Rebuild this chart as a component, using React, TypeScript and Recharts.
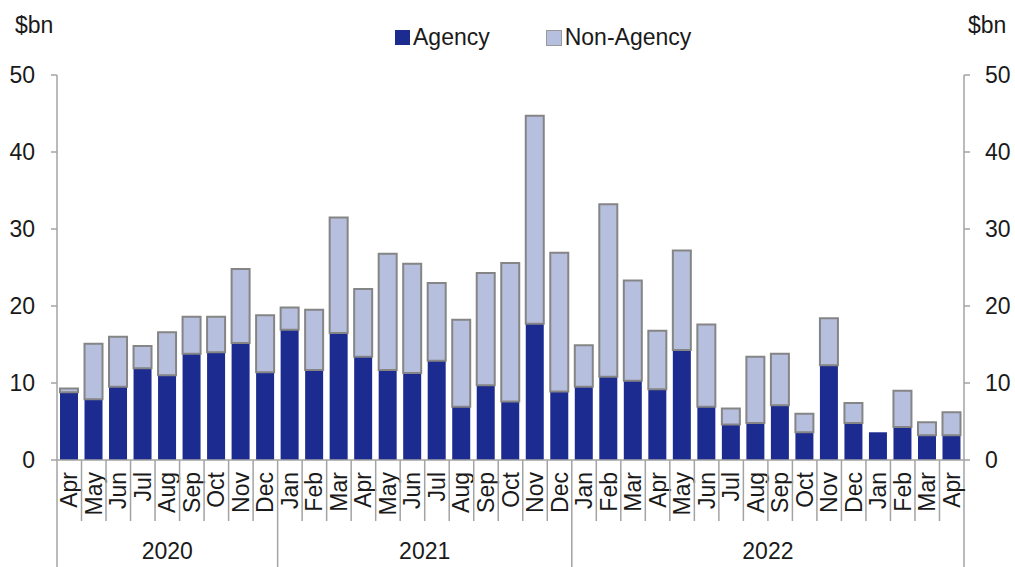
import {Bar, ComposedChart, Line, XAxis, YAxis} from "recharts";

const months = [
    "Apr", "May", "Jun", "Jul", "Aug", "Sep", "Oct", "Nov", "Dec",
    "Jan", "Feb", "Mar", "Apr", "May", "Jun", "Jul", "Aug", "Sep", "Oct", "Nov", "Dec",
    "Jan", "Feb", "Mar", "Apr", "May", "Jun", "Jul", "Aug", "Sep", "Oct", "Nov", "Dec",
    "Jan", "Feb", "Mar", "Apr",
];

// $bn per month
const agency = [
    8.8, 7.9, 9.5, 11.9, 11.0, 13.8, 14.0, 15.2, 11.4,
    16.9, 11.7, 16.5, 13.4, 11.7, 11.3, 12.9, 6.9, 9.7, 7.6, 17.7, 8.9,
    9.5, 10.8, 10.3, 9.2, 14.3, 6.9, 4.6, 4.8, 7.1, 3.6, 12.3, 4.8,
    3.6, 4.3, 3.2, 3.2,
];

const nonAgency = [
    0.5, 7.2, 6.5, 2.9, 5.6, 4.8, 4.6, 9.6, 7.4,
    2.9, 7.8, 15.0, 8.8, 15.1, 14.2, 10.1, 11.3, 14.6, 18.0, 27.0, 18.0,
    5.4, 22.4, 13.0, 7.6, 12.9, 10.7, 2.1, 8.6, 6.7, 2.4, 6.1, 2.6,
    0, 4.7, 1.7, 3.0,
];

// year groups along the x axis: label and number of months under it
const yearLabels = ["2020", "2021", "2022"];
const yearSpans = [9, 12, 16];

const yTicks = [0, 10, 20, 30, 40, 50];

const data = months.map((m, i) => ({month: m, agency: agency[i], nonAgency: nonAgency[i]}));

const W = 1015;
const H = 567;
const LEFT = 57;
const RIGHT = 51;
const TOP = 75;
const XAXIS_H = 107;
const BAND = (W - LEFT - RIGHT) / months.length;

const FONT = "'Liberation Sans', Arial, sans-serif";
const AXIS_GREY = "#a3a3a3";
const DARK = "#1c2b90";
const LIGHT = "#b6bfde";

const groupStarts = yearSpans.map((_, i) => yearSpans.slice(0, i).reduce((a, b) => a + b, 0));

const MonthTick = (props: any) => {
    const {x, y, payload, index} = props;
    const i = payload?.index ?? index;
    const left = x - BAND / 2;
    const g = groupStarts.indexOf(i);
    const last = i === months.length - 1;
    return (
        <g>
            <line x1={left} y1={y} x2={left} y2={y + (g >= 0 ? XAXIS_H : 61)} stroke={AXIS_GREY} strokeWidth={1.5}/>
            {last && (
                <line x1={x + BAND / 2} y1={y} x2={x + BAND / 2} y2={y + XAXIS_H} stroke={AXIS_GREY} strokeWidth={1.5}/>
            )}
            <text
                transform={`translate(${x + 8},${y + 12}) rotate(-90)`}
                textAnchor="end"
                fontSize={23}
                fontFamily={FONT}
                fill="#1a1a1a"
            >
                {payload.value}
            </text>
            {g >= 0 && (
                <text
                    x={x + (yearSpans[g] - 1) * BAND / 2}
                    y={y + 99}
                    textAnchor="middle"
                    fontSize={23}
                    fontFamily={FONT}
                    fill="#1a1a1a"
                >
                    {yearLabels[g]}
                </text>
            )}
        </g>
    );
};

const tickStyle = {fontSize: 23, fontFamily: FONT, fill: "#1a1a1a"};

export default function App() {
    return (
        <div style={{position: "absolute", left: 0, top: 0, width: W, height: H, background: "#fff", fontFamily: FONT}}>
            <div style={{position: "absolute", left: 15, top: 12, fontSize: 23, color: "#1a1a1a"}}>$bn</div>
            <div style={{position: "absolute", left: 968, top: 12, fontSize: 23, color: "#1a1a1a"}}>$bn</div>
            <div style={{position: "absolute", left: 395, top: 24, display: "flex", alignItems: "center", fontSize: 23, color: "#1a1a1a"}}>
                <span style={{width: 15, height: 15, background: DARK, display: "inline-block", marginRight: 3}}/>
                <span>Agency</span>
                <span style={{width: 14, height: 14, background: LIGHT, border: "1px solid #999", display: "inline-block", marginLeft: 56, marginRight: 3}}/>
                <span>Non-Agency</span>
            </div>
            <ComposedChart
                width={W}
                height={H}
                data={data}
                margin={{top: TOP, right: 0, left: 0, bottom: 0}}
                barSize={18}
            >
                <XAxis
                    dataKey="month"
                    height={XAXIS_H}
                    interval={0}
                    tickLine={false}
                    tickSize={0}
                    tickMargin={0}
                    axisLine={{stroke: AXIS_GREY, strokeWidth: 1.5}}
                    tick={<MonthTick/>}
                />
                <YAxis
                    yAxisId="left"
                    width={LEFT}
                    domain={[0, 50]}
                    ticks={yTicks}
                    tickSize={6}
                    tickMargin={16}
                    axisLine={{stroke: AXIS_GREY, strokeWidth: 1.5}}
                    tickLine={{stroke: AXIS_GREY, strokeWidth: 1.5}}
                    tick={tickStyle}
                />
                <YAxis
                    yAxisId="right"
                    orientation="right"
                    width={RIGHT}
                    domain={[0, 50]}
                    ticks={yTicks}
                    tickSize={6}
                    tickMargin={15}
                    axisLine={{stroke: AXIS_GREY, strokeWidth: 1.5}}
                    tickLine={{stroke: AXIS_GREY, strokeWidth: 1.5}}
                    tick={{...tickStyle, textAnchor: "start"}}
                />
                <Bar yAxisId="left" dataKey="agency" stackId="a" fill={DARK} isAnimationActive={false}/>
                <Bar yAxisId="left" dataKey="nonAgency" stackId="a" fill={LIGHT} stroke="#858585" strokeWidth={2} isAnimationActive={false}/>
                {/* invisible series so the mirrored right-hand axis gets drawn */}
                <Line yAxisId="right" dataKey="agency" stroke="none" dot={false} activeDot={false} legendType="none" isAnimationActive={false}/>
            </ComposedChart>
        </div>
    );
}
